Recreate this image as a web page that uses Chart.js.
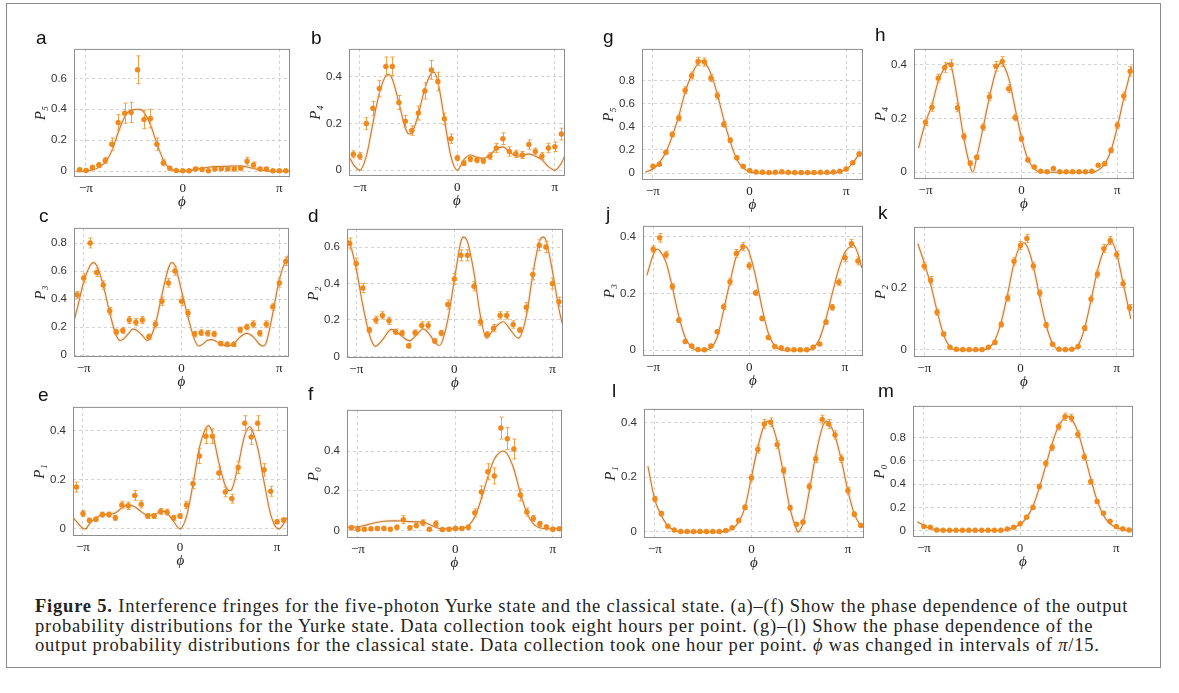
<!DOCTYPE html>
<html>
<head>
<meta charset="utf-8">
<script src="https://cdn.jsdelivr.net/npm/chart.js@4.4.1/dist/chart.umd.min.js"></script>
<style>
  body { margin:0; width:1179px; height:693px; background:#fff; position:relative; overflow:hidden; font-family:"Liberation Serif", serif; }
  #box { position:absolute; left:6px; top:3px; width:1155px; height:665px; border:1.5px solid #8a8a8a; box-sizing:border-box; }
  .panel { position:absolute; }
  .lbl { position:absolute; font:19px/20px "Liberation Sans", Arial, sans-serif; color:#111; }
  #cap { position:absolute; left:35px; top:597px; font-size:18.5px; letter-spacing:0.8px; line-height:19.5px; color:#222; white-space:nowrap; }
</style>
</head>
<body>
<div id="box"></div>
<div id="cap"><b>Figure 5.</b> Interference fringes for the five-photon Yurke state and the classical state. (a)–(f) Show the phase dependence of the output<br>probability distributions for the Yurke state. Data collection took eight hours per point. (g)–(l) Show the phase dependence of the<br>output probability distributions for the classical state. Data collection took one hour per point. <i>ϕ</i> was changed in intervals of <i>π</i>/15.</div>
<script>
// phase steps in units of pi/15
const yurkeSteps = [-16,-15,-14,-13,-12,-11,-10,-9,-8,-7,-6,-5,-4,-3,-2,-1,0,1,2,3,4,5,6,7,8,9,10,11,12,13,14,15,16];
const classicalSteps = [-15,-14,-13,-12,-11,-10,-9,-8,-7,-6,-5,-4,-3,-2,-1,0,1,2,3,4,5,6,7,8,9,10,11,12,13,14,15,16,17];
const xTickSteps = [-15, 0, 15];
const xTickLabels = ["−π", "0", "π"];

// (a) P5 Yurke
const pA = [0.01,0.005,0.025,0.04,0.07,0.175,0.315,0.375,0.38,0.655,0.335,0.34,0.175,0.055,0.02,0.005,0.003,0.003,0.015,0.012,0.003,0.015,0.017,0.015,0.015,0.02,0.065,0.04,0.015,0.015,0.003,0.003,0.003];
const errA = [0.01,0.008,0.012,0.015,0.02,0.04,0.05,0.065,0.065,0.09,0.06,0.06,0.04,0.02,0.01,0.006,0.006,0.006,0.01,0.01,0.006,0.01,0.01,0.01,0.01,0.012,0.025,0.02,0.01,0.01,0.006,0.006,0.006];
const curveA = [[-16.5,0],[-15,0.002],[-14,0.008],[-13,0.025],[-12,0.06],[-11,0.13],[-10,0.25],[-9,0.35],[-8,0.395],[-7,0.4],[-6.5,0.398],[-6,0.38],[-5,0.3],[-4,0.18],[-3,0.075],[-2,0.018],[-1,0.002],[0,0],[1,0.004],[2,0.012],[3,0.02],[4,0.026],[5,0.03],[6,0.031],[7,0.032],[8,0.034],[9,0.033],[10,0.028],[11,0.018],[12,0.008],[13,0.002],[14,0],[16.5,0]];
const yTicksA = [0, 0.2, 0.4, 0.6];

// (b) P4 Yurke
const pB = [0.068,0.06,0.2,0.265,0.35,0.445,0.445,0.29,0.21,0.17,0.245,0.34,0.43,0.38,0.22,0.135,0.052,0.03,0.048,0.044,0.04,0.06,0.095,0.135,0.08,0.07,0.065,0.11,0.08,0.06,0.095,0.1,0.155];
const errB = [0.015,0.015,0.025,0.03,0.035,0.04,0.04,0.03,0.025,0.02,0.03,0.035,0.04,0.04,0.025,0.02,0.012,0.01,0.012,0.012,0.012,0.015,0.02,0.025,0.02,0.015,0.015,0.02,0.015,0.015,0.02,0.02,0.025];
const curveB = [[-16.5,0.05],[-16,0.025],[-15,0],[-14,0.06],[-13,0.2],[-12,0.33],[-11,0.405],[-10.6,0.41],[-10,0.39],[-9,0.29],[-8,0.18],[-7.4,0.155],[-7,0.16],[-6,0.24],[-5,0.35],[-4,0.415],[-3.6,0.42],[-3,0.38],[-2,0.22],[-1,0.06],[0,0],[1,0.045],[2,0.065],[3,0.055],[4,0.05],[5,0.065],[6,0.09],[7,0.1],[8,0.08],[9,0.06],[10,0.062],[11,0.07],[12,0.06],[13,0.045],[14,0.015],[15,0],[16,0.03],[16.5,0.06]];
const yTicksB = [0, 0.2, 0.4];

// (c) P3 Yurke
const pC = [0.43,0.55,0.8,0.59,0.5,0.315,0.165,0.175,0.25,0.235,0.25,0.13,0.22,0.385,0.515,0.6,0.385,0.3,0.15,0.16,0.155,0.15,0.082,0.077,0.077,0.18,0.2,0.22,0.155,0.22,0.345,0.515,0.67];
const errC = [0.025,0.03,0.035,0.03,0.03,0.025,0.02,0.02,0.025,0.025,0.025,0.02,0.025,0.03,0.03,0.03,0.03,0.025,0.02,0.02,0.02,0.02,0.015,0.015,0.015,0.02,0.02,0.025,0.02,0.025,0.025,0.03,0.03];
const curveC = [[-16.5,0.24],[-16,0.33],[-15,0.52],[-14,0.64],[-13.5,0.66],[-13,0.64],[-12,0.5],[-11,0.3],[-10,0.14],[-9.4,0.105],[-9,0.11],[-8,0.16],[-7.5,0.185],[-7,0.18],[-6,0.14],[-5.3,0.105],[-5,0.11],[-4,0.22],[-3,0.43],[-2,0.62],[-1.5,0.66],[-1,0.64],[0,0.46],[1,0.27],[2,0.11],[2.6,0.065],[3,0.07],[4,0.105],[4.6,0.11],[5,0.105],[6,0.08],[7,0.065],[8,0.08],[9,0.13],[10,0.155],[11,0.13],[12,0.075],[12.5,0.065],[13,0.09],[14,0.3],[15,0.54],[16,0.68],[16.5,0.72]];
const yTicksC = [0, 0.2, 0.4, 0.6, 0.8];

// (d) P2 Yurke
const pD = [0.62,0.51,0.375,0.145,0.2,0.225,0.195,0.135,0.128,0.058,0.13,0.17,0.17,0.084,0.128,0.285,0.425,0.555,0.555,0.385,0.19,0.12,0.155,0.225,0.225,0.175,0.145,0.27,0.45,0.61,0.6,0.4,0.3];
const errD = [0.03,0.03,0.025,0.015,0.02,0.02,0.02,0.015,0.015,0.012,0.015,0.02,0.02,0.012,0.015,0.025,0.03,0.03,0.03,0.025,0.02,0.015,0.02,0.02,0.02,0.02,0.015,0.025,0.03,0.03,0.03,0.03,0.025];
const curveD = [[-16.5,0.645],[-16,0.62],[-15,0.48],[-14,0.28],[-13,0.12],[-12.1,0.055],[-11,0.09],[-10,0.14],[-9.6,0.148],[-9,0.14],[-8,0.11],[-6.8,0.085],[-6,0.11],[-4.7,0.15],[-4,0.13],[-3,0.08],[-2.4,0.06],[-2,0.07],[-1,0.2],[0,0.42],[1,0.63],[1.4,0.655],[2,0.63],[3,0.46],[4,0.22],[4.9,0.1],[6,0.15],[7.5,0.19],[8.5,0.15],[9.8,0.1],[11,0.22],[12,0.45],[13,0.63],[13.6,0.655],[14,0.64],[15,0.47],[16,0.26],[16.5,0.18]];
const yTicksD = [0, 0.2, 0.4, 0.6];

// (e) P1 Yurke
const pE = [0.17,0.062,0.035,0.039,0.058,0.058,0.045,0.097,0.094,0.136,0.1,0.052,0.052,0.071,0.068,0.045,0.052,0.097,0.184,0.296,0.377,0.377,0.227,0.15,0.123,0.25,0.43,0.374,0.43,0.24,0.153,0.029,0.036];
const errE = [0.02,0.012,0.008,0.008,0.01,0.01,0.01,0.015,0.015,0.02,0.015,0.01,0.01,0.012,0.012,0.01,0.01,0.015,0.02,0.03,0.03,0.03,0.025,0.02,0.018,0.025,0.03,0.03,0.03,0.025,0.02,0.008,0.008];
const curveE = [[-16.5,0.045],[-16,0.03],[-15,0.002],[-14.6,0],[-14,0.02],[-13,0.045],[-12,0.058],[-11,0.06],[-10,0.065],[-9,0.085],[-8,0.097],[-7,0.09],[-6,0.07],[-5,0.055],[-4,0.058],[-3,0.07],[-2.5,0.072],[-2,0.065],[-1,0.03],[0,0],[1,0.05],[2,0.18],[3,0.33],[4,0.41],[4.4,0.42],[5,0.39],[6,0.27],[7,0.175],[7.7,0.155],[8,0.16],[9,0.26],[10,0.38],[10.8,0.415],[11,0.41],[12,0.33],[13,0.19],[14,0.06],[15,0.002],[15.3,0],[16,0.02],[16.5,0.045]];
const yTicksE = [0, 0.2, 0.4];

// (f) P0 Yurke
const pF = [0.015,0.008,0.008,0.01,0.012,0.012,0.008,0.018,0.056,0.015,0.027,0.04,0.008,0.035,0.006,0.008,0.012,0.012,0.018,0.09,0.195,0.296,0.275,0.515,0.462,0.41,0.18,0.094,0.062,0.035,0.019,0.008,0.01];
const errF = [0.01,0.008,0.008,0.008,0.008,0.008,0.008,0.01,0.02,0.01,0.012,0.015,0.008,0.015,0.006,0.008,0.008,0.008,0.01,0.02,0.03,0.04,0.04,0.055,0.055,0.05,0.03,0.02,0.015,0.012,0.01,0.008,0.008];
const curveF = [[-16.5,0.018],[-16,0.018],[-15,0.02],[-14,0.027],[-13,0.035],[-12,0.043],[-11,0.048],[-10,0.05],[-9,0.05],[-8,0.049],[-7,0.046],[-6,0.045],[-5,0.044],[-4,0.032],[-3,0.017],[-2,0.01],[-1,0.01],[0,0.01],[1,0.012],[2,0.025],[3,0.07],[4,0.16],[5,0.27],[6,0.36],[7,0.397],[7.4,0.4],[8,0.385],[9,0.31],[10,0.19],[11,0.09],[12,0.035],[13,0.015],[14,0.01],[15,0.01],[16.5,0.01]];
const yTicksF = [0, 0.2, 0.4];

// (g) P5 classical
const pG = [0.058,0.077,0.18,0.334,0.477,0.717,0.844,0.966,0.96,0.822,0.67,0.422,0.284,0.132,0.058,0.022,0.01,0.008,0.005,0.006,0.012,0.006,0.005,0.005,0.005,0.005,0.006,0.006,0.01,0.015,0.035,0.09,0.165];
const errG = [0.01,0.012,0.015,0.02,0.025,0.03,0.03,0.035,0.035,0.03,0.03,0.025,0.02,0.015,0.01,0.006,0.004,0.004,0.004,0.004,0.005,0.004,0.004,0.004,0.004,0.004,0.004,0.004,0.005,0.006,0.008,0.012,0.018];
const curveG = [[-16.2,0.008],[-15,0.035],[-14,0.09],[-13,0.18],[-12,0.32],[-11,0.49],[-10,0.7],[-9,0.85],[-8,0.95],[-7.5,0.97],[-7,0.96],[-6,0.86],[-5,0.68],[-4,0.46],[-3,0.27],[-2,0.12],[-1,0.045],[0,0.012],[1,0.003],[2,0.001],[12,0.001],[13,0.004],[14,0.012],[15,0.035],[16,0.085],[17,0.165],[17.2,0.18]];
const yTicksG = [0, 0.2, 0.4, 0.6, 0.8];

// (h) P4 classical
const pH = [0.186,0.242,0.35,0.39,0.4,0.24,0.133,0.034,0.056,0.168,0.281,0.394,0.412,0.311,0.204,0.125,0.046,0.02,0.004,0.002,0.014,0.002,0.002,0.002,0.002,0.002,0.004,0.026,0.032,0.082,0.175,0.284,0.376];
const errH = [0.012,0.015,0.015,0.018,0.018,0.015,0.012,0.008,0.008,0.012,0.015,0.018,0.018,0.015,0.012,0.01,0.006,0.004,0.003,0.003,0.004,0.003,0.003,0.003,0.003,0.003,0.003,0.005,0.006,0.008,0.012,0.015,0.018];
const curveH = [[-16.1,0.09],[-15,0.186],[-14,0.25],[-13,0.34],[-12,0.39],[-11.5,0.405],[-11,0.395],[-10,0.27],[-9,0.125],[-8,0.02],[-7.6,0],[-7,0.055],[-6,0.165],[-5,0.28],[-4,0.375],[-3.2,0.407],[-3,0.405],[-2,0.35],[-1,0.24],[0,0.13],[1,0.05],[2,0.013],[3,0.001],[4,0],[11,0],[12,0.008],[13,0.03],[14,0.08],[15,0.17],[16,0.275],[17,0.37],[17.2,0.39]];
const yTicksH = [0, 0.2, 0.4];

// (j) P3 classical
const pJ = [0.355,0.395,0.336,0.224,0.106,0.031,0.015,0.003,0.002,0.015,0.065,0.153,0.241,0.34,0.364,0.297,0.202,0.112,0.045,0.013,0.009,0.003,0.002,0.002,0.002,0.011,0.022,0.099,0.151,0.239,0.325,0.375,0.314];
const errJ = [0.012,0.015,0.012,0.01,0.008,0.005,0.004,0.003,0.003,0.004,0.006,0.01,0.012,0.014,0.014,0.012,0.01,0.008,0.005,0.004,0.003,0.003,0.003,0.003,0.003,0.003,0.004,0.007,0.01,0.012,0.014,0.014,0.014];
const curveJ = [[-16,0.263],[-15,0.335],[-14.4,0.355],[-14,0.35],[-13,0.31],[-12,0.22],[-11,0.12],[-10,0.045],[-9,0.01],[-8,0],[-7,0],[-6,0.008],[-5,0.045],[-4,0.14],[-3,0.24],[-2,0.33],[-1,0.36],[-0.6,0.365],[0,0.345],[1,0.26],[2,0.15],[3,0.06],[4,0.015],[5,0.001],[6,0],[9,0],[10,0.008],[11,0.04],[12,0.11],[13,0.2],[14,0.285],[15,0.345],[16,0.368],[16.3,0.37],[17,0.34],[17.6,0.29]];
const yTicksJ = [0, 0.2, 0.4];

// (k) P2 classical
const pK = [0.27,0.224,0.121,0.051,0.008,0.002,0.001,0.001,0.001,0.001,0.008,0.024,0.082,0.167,0.285,0.336,0.359,0.27,0.183,0.08,0.018,0.002,0.001,0.002,0.011,0.07,0.164,0.244,0.326,0.352,0.306,0.213,0.136];
const errK = [0.012,0.012,0.01,0.006,0.003,0.002,0.002,0.002,0.002,0.002,0.003,0.005,0.008,0.01,0.012,0.013,0.013,0.012,0.01,0.008,0.004,0.002,0.002,0.002,0.003,0.008,0.01,0.012,0.013,0.013,0.012,0.012,0.01];
const curveK = [[-16,0.342],[-15,0.28],[-14,0.21],[-13,0.125],[-12,0.05],[-11,0.01],[-10,0],[-6,0],[-5,0.006],[-4,0.03],[-3,0.09],[-2,0.18],[-1,0.28],[0,0.337],[0.5,0.345],[1,0.335],[2,0.27],[3,0.17],[4,0.08],[5,0.02],[6,0.001],[7,0],[8,0.001],[9,0.015],[10,0.07],[11,0.16],[12,0.255],[13,0.32],[14,0.347],[14.2,0.348],[15,0.31],[16,0.215],[17,0.12],[17.2,0.1]];
const yTicksK = [0, 0.2];

// (l) P1 classical
const pL = [0.12,0.067,0.021,0.007,0.002,0.002,0.002,0.002,0.002,0.002,0.002,0.005,0.015,0.042,0.09,0.198,0.302,0.394,0.4,0.319,0.224,0.088,0.028,0.036,0.166,0.267,0.41,0.394,0.354,0.267,0.151,0.065,0.024];
const errL = [0.01,0.008,0.004,0.003,0.002,0.002,0.002,0.002,0.002,0.002,0.002,0.003,0.004,0.006,0.008,0.012,0.014,0.016,0.016,0.014,0.012,0.008,0.005,0.006,0.012,0.014,0.016,0.016,0.015,0.014,0.012,0.008,0.005];
const curveL = [[-16.1,0.24],[-15,0.115],[-14,0.06],[-13,0.022],[-12,0.006],[-11,0.001],[-10,0],[-5,0],[-4,0.003],[-3,0.012],[-2,0.035],[-1,0.09],[0,0.2],[1,0.31],[2,0.39],[2.6,0.405],[3,0.4],[4,0.33],[5,0.21],[6,0.085],[7,0.01],[7.25,0],[7.5,0.005],[8,0.03],[9,0.15],[10,0.28],[11,0.38],[11.7,0.405],[12,0.4],[13,0.35],[14,0.26],[15,0.15],[16,0.065],[17,0.022],[17.2,0.016]];
const yTicksL = [0, 0.2, 0.4];

// (m) P0 classical
const pM = [0.036,0.028,0.005,0.003,0.003,0.003,0.003,0.003,0.003,0.003,0.003,0.003,0.003,0.014,0.028,0.06,0.116,0.2,0.38,0.58,0.717,0.897,0.98,0.97,0.83,0.634,0.42,0.25,0.15,0.08,0.035,0.015,0.005];
const errM = [0.006,0.005,0.003,0.002,0.002,0.002,0.002,0.002,0.002,0.002,0.002,0.002,0.002,0.004,0.005,0.008,0.01,0.014,0.02,0.025,0.028,0.03,0.032,0.032,0.03,0.026,0.02,0.015,0.012,0.008,0.005,0.004,0.003];
const curveM = [[-16,0.077],[-15,0.045],[-14,0.02],[-13,0.007],[-12,0.002],[-11,0.001],[-4,0.001],[-3,0.003],[-2,0.01],[-1,0.025],[0,0.055],[1,0.11],[2,0.21],[3,0.37],[4,0.56],[5,0.75],[6,0.9],[7,0.975],[7.5,0.985],[8,0.965],[9,0.85],[10,0.66],[11,0.45],[12,0.26],[13,0.13],[14,0.06],[15,0.025],[16,0.01],[17,0.003],[17.4,0.002]];
const yTicksM = [0, 0.2, 0.4, 0.6, 0.8];

const panels = [
  { letter: "a", title: "P₅", steps: yurkeSteps, vals: pA, errs: errA, curve: curveA, yTicks: yTicksA, frame: [74, 43, 290, 177], xr: [-16.86, 16.66], yr: [-0.037, 0.79], lpos: [36, 45] },
  { letter: "b", title: "P₄", steps: yurkeSteps, vals: pB, errs: errB, curve: curveB, yTicks: yTicksB, frame: [349, 43, 565, 176], xr: [-16.67, 16.56], yr: [-0.025, 0.52], lpos: [311, 45] },
  { letter: "c", title: "P₃", steps: yurkeSteps, vals: pC, errs: errC, curve: curveC, yTicks: yTicksC, frame: [74, 222, 289, 357], xr: [-16.48, 16.48], yr: [-0.014, 0.908], lpos: [39, 223] },
  { letter: "d", title: "P₂", steps: yurkeSteps, vals: pD, errs: errD, curve: curveD, yTicks: yTicksD, frame: [347, 223, 563, 358], xr: [-16.42, 16.62], yr: [-0.009, 0.70], lpos: [308, 223] },
  { letter: "e", title: "P₁", steps: yurkeSteps, vals: pE, errs: errE, curve: curveE, yTicks: yTicksE, frame: [73, 401, 288, 536], xr: [-16.54, 16.69], yr: [-0.029, 0.496], lpos: [38, 402] },
  { letter: "f", title: "P₀", steps: yurkeSteps, vals: pF, errs: errF, curve: curveF, yTicks: yTicksF, frame: [347, 404, 562, 538], xr: [-16.67, 16.41], yr: [-0.036, 0.606], lpos: [308, 401] },
  { letter: "g", title: "P₅", steps: classicalSteps, vals: pG, errs: errG, curve: curveG, yTicks: yTicksG, frame: [642, 43, 863, 180], xr: [-16.7, 17.6], yr: [-0.06, 1.074], lpos: [603, 44] },
  { letter: "h", title: "P₄", steps: classicalSteps, vals: pH, errs: errH, curve: curveH, yTicks: yTicksH, frame: [914, 43, 1134, 179], xr: [-16.8, 17.6], yr: [-0.025, 0.459], lpos: [875, 42] },
  { letter: "j", title: "P₃", steps: classicalSteps, vals: pJ, errs: errJ, curve: curveJ, yTicks: yTicksJ, frame: [643, 220, 863, 356], xr: [-16.6, 17.8], yr: [-0.02, 0.437], lpos: [606, 221] },
  { letter: "k", title: "P₂", steps: classicalSteps, vals: pK, errs: errK, curve: curveK, yTicks: yTicksK, frame: [914, 221, 1134, 357], xr: [-16.6, 17.7], yr: [-0.023, 0.396], lpos: [878, 220] },
  { letter: "l", title: "P₁", steps: classicalSteps, vals: pL, errs: errL, curve: curveL, yTicks: yTicksL, frame: [644, 403, 864, 538], xr: [-16.7, 17.5], yr: [-0.022, 0.449], lpos: [612, 398] },
  { letter: "m", title: "P₀", steps: classicalSteps, vals: pM, errs: errM, curve: curveM, yTicks: yTicksM, frame: [913, 400, 1133, 537], xr: [-16.7, 17.6], yr: [-0.055, 1.074], lpos: [878, 398] }
];

const AXW = 42, AXH = 34, PADT = 8, PADR = 8;

const errorBars = {
  id: "errorBars",
  afterDatasetDraw(chart, args) {
    if (args.index !== 1) return;
    const { ctx, chartArea: a } = chart;
    const xs = chart.scales.x, ys = chart.scales.y;
    ctx.save();
    ctx.beginPath();
    ctx.rect(a.left, a.top, a.right - a.left, a.bottom - a.top);
    ctx.clip();
    ctx.strokeStyle = "#f2a045";
    ctx.lineWidth = 1;
    chart.data.datasets[0].data.forEach(p => {
      const px = Math.round(xs.getPixelForValue(p.x)) + 0.5;
      const y1 = ys.getPixelForValue(p.y - p.e);
      const y2 = ys.getPixelForValue(p.y + p.e);
      ctx.beginPath();
      ctx.moveTo(px, y1); ctx.lineTo(px, y2);
      ctx.moveTo(px - 2, y1); ctx.lineTo(px + 2, y1);
      ctx.moveTo(px - 2, y2); ctx.lineTo(px + 2, y2);
      ctx.stroke();
    });
    ctx.restore();
  }
};

const frameBox = {
  id: "frameBox",
  afterDraw(chart) {
    const { ctx, chartArea: a } = chart;
    ctx.save();
    ctx.strokeStyle = "#8e8e8e";
    ctx.lineWidth = 1;
    ctx.strokeRect(a.left + 0.5, a.top + 0.5, a.right - a.left - 1, a.bottom - a.top - 1);
    ctx.restore();
  }
};

function makePanel(p) {
  const [L, T, R, B] = p.frame;
  const w = R - L + AXW + PADR, h = B - T + PADT + AXH;

  const wrap = document.createElement("div");
  wrap.className = "panel";
  wrap.style.left = (L - AXW) + "px";
  wrap.style.top = (T - PADT) + "px";
  const cv = document.createElement("canvas");
  cv.width = w; cv.height = h;
  cv.style.width = w + "px"; cv.style.height = h + "px";
  wrap.appendChild(cv);
  document.body.appendChild(wrap);

  const lab = document.createElement("div");
  lab.className = "lbl";
  lab.textContent = p.letter;
  lab.style.left = p.lpos[0] + "px";
  lab.style.top = (p.lpos[1] - 17) + "px";
  document.body.appendChild(lab);

  new Chart(cv, {
    type: "line",
    data: {
      datasets: [
        {
          data: p.steps.map((k, i) => ({ x: k, y: p.vals[i], e: p.errs[i] })),
          showLine: false,
          pointRadius: 2.5,
          pointBackgroundColor: "#f28a1a",
          pointBorderColor: "#e67c12",
          pointBorderWidth: 0.5
        },
        {
          data: p.curve.map(c => ({ x: c[0], y: c[1] })),
          borderColor: "#c07a3a",
          borderWidth: 1.1,
          pointRadius: 0,
          cubicInterpolationMode: "monotone",
          fill: false
        },
        {
          data: p.curve.map(c => ({ x: c[0], y: c[1] })),
          borderColor: "rgba(255,178,90,0.22)",
          borderWidth: 3.5,
          pointRadius: 0,
          cubicInterpolationMode: "monotone",
          fill: false
        }
      ]
    },
    options: {
      responsive: false,
      animation: false,
      events: [],
      layout: { padding: { left: 0, top: PADT, right: PADR, bottom: 0 } },
      plugins: { legend: { display: false }, tooltip: { enabled: false } },
      scales: {
        x: {
          type: "linear",
          min: p.xr[0],
          max: p.xr[1],
          afterBuildTicks: s => { s.ticks = xTickSteps.map(v => ({ value: v })); },
          afterFit: s => { s.height = AXH; },
          grid: { color: "#d2d2d2", drawTicks: false },
          border: { display: false, dash: [3, 3] },
          ticks: {
            padding: 4,
            color: "#222",
            font: { family: "Liberation Serif", size: 13 },
            callback: v => xTickLabels[xTickSteps.indexOf(v)]
          },
          title: {
            display: true,
            text: "ϕ",
            color: "#222",
            padding: { top: 0, bottom: 0 },
            font: { family: "Liberation Serif", size: 15, style: "italic" }
          }
        },
        y: {
          min: p.yr[0],
          max: p.yr[1],
          afterBuildTicks: s => { s.ticks = p.yTicks.map(v => ({ value: v })); },
          afterFit: s => { s.width = AXW; },
          grid: { color: "#d2d2d2", drawTicks: false },
          border: { display: false, dash: [3, 3] },
          ticks: {
            padding: 7,
            color: "#333",
            font: { family: "Liberation Sans", size: 11.5 },
            callback: v => (v === 0 ? "0" : v.toFixed(1))
          },
          title: {
            display: true,
            text: p.title,
            color: "#222",
            padding: { top: 0, bottom: 0 },
            font: { family: "Liberation Serif", size: 15, style: "italic" }
          }
        }
      }
    },
    plugins: [errorBars, frameBox]
  });
}

panels.forEach(makePanel);
</script>
</body>
</html>
